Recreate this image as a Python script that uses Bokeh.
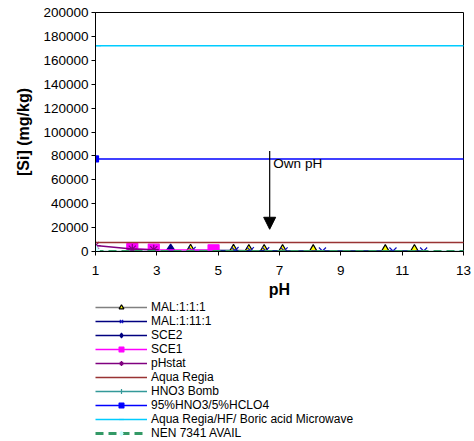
from bokeh.plotting import figure
from bokeh.layouts import column
from bokeh.models import (Legend, LegendItem, Arrow, NormalHead, Label, FixedTicker,
                          SingleIntervalTicker, NumeralTickFormatter, Range1d)
from bokeh.embed import file_html
from bokeh.resources import INLINE

# ---- data ----
mal111_ph = [4.1, 5.5, 6.0, 6.5, 7.1, 8.1, 10.45, 11.4]
mal111_si = [800, 700, 600, 600, 500, 400, 400, 500]
mal1111_ph = [4.15, 5.55, 6.05, 6.55, 7.15, 8.4, 10.7, 11.7]
mal1111_si = [900, 800, 700, 600, 500, 400, 400, 400]
sce2_ph = [3.45]
sce2_si = [700]
sce1_ph = [2.2, 2.9, 4.85]
sce1_si = [2000, 1500, 1000]
phstat_ph = [1.0, 2.2, 2.9]
phstat_si = [5000, 2000, 1500]
flat_ph = [1.0, 14.0]
aqua_regia_si = [7500, 7500]
hno3_bomb_si = [0, 0]
hno3_hclo4_si = [77500, 77500]
aqua_hf_si = [172200, 172200]
nen_si = [0, 0]
x_ticks = [1, 3, 5, 7, 9, 11, 13]
own_ph = 6.68

FONT = "Liberation Sans"

p = figure(width=474, height=300, output_backend="svg", toolbar_location=None,
           x_range=Range1d(1, 13), y_range=Range1d(0, 200000),
           min_border_left=95, min_border_right=11, min_border_top=12, min_border_bottom=48)
p.xgrid.visible = False
p.ygrid.visible = False
p.outline_line_color = "black"
p.outline_line_alpha = 1.0

# legend-only figure below the chart (same data, view range chosen so that
# only the legend is visible)
lg = figure(width=474, height=141, output_backend="svg", toolbar_location=None,
            x_range=Range1d(100, 101), y_range=Range1d(-1e7, -1e7 + 1),
            x_axis_location=None, y_axis_location=None,
            min_border_left=95, min_border_right=11, min_border_top=0, min_border_bottom=0)
lg.xgrid.visible = False
lg.ygrid.visible = False
lg.outline_line_color = None

items = []

def add(label, xs, ys, color, lw=1.5, dash="solid", marker=None, msize=8,
        mfill=None, mline=None):
    p.line(xs, ys, line_color=color, line_width=lw, line_dash=dash)
    rs = [lg.line(xs, ys, line_color=color, line_width=lw, line_dash=dash)]
    if marker is not None:
        kw = dict(marker=marker, size=msize, fill_color=mfill if mfill else color,
                  line_color=mline if mline else color, line_width=1.2)
        p.scatter(xs, ys, **kw)
        rs.append(lg.scatter(xs, ys, **kw))
    items.append(LegendItem(label=label, renderers=rs))

add("MAL:1:1:1", mal111_ph, mal111_si, "#808080", marker="triangle", msize=11,
    mfill="#FFFF00", mline="black")
add("MAL:1:11:1", mal1111_ph, mal1111_si, "#000080", marker="x", msize=10,
    mline="#1010C0")
add("SCE2", sce2_ph, sce2_si, "#000080", marker="diamond", msize=13)
add("SCE1", sce1_ph, sce1_si, "#FF00FF", marker="square", msize=11)
add("pHstat", phstat_ph, phstat_si, "#800080", marker="asterisk", msize=10)
add("Aqua Regia", flat_ph, aqua_regia_si, "#993333", lw=1.6)
add("HNO3 Bomb", flat_ph, hno3_bomb_si, "#339999", marker="cross", msize=10)
add("95%HNO3/5%HCLO4", flat_ph, hno3_hclo4_si, "#0000FF", marker="square", msize=6)
add("Aqua Regia/HF/ Boric acid Microwave", flat_ph, aqua_hf_si, "#00CCFF",
    marker="dash", msize=11)
add("NEN 7341 AVAIL", flat_ph, nen_si, "#339966", lw=3, dash="8 5",
    marker="diamond", msize=13, mfill="#CCFFFF", mline="#CCFFFF")

# annotation arrow
p.add_layout(Arrow(x_start=own_ph, y_start=84000, x_end=own_ph, y_end=18600,
                   line_color="black", line_width=1.2,
                   end=NormalHead(size=12, fill_color="black", line_color="black")))
p.add_layout(Label(x=own_ph + 0.12, y=73600, text="Own pH", text_baseline="middle",
                   text_font=FONT, text_font_size="13.5px", text_color="black"))

# axes
p.xaxis.ticker = FixedTicker(ticks=x_ticks)
p.yaxis.ticker = SingleIntervalTicker(interval=20000)
p.yaxis.formatter = NumeralTickFormatter(format="0")
for ax in (p.xaxis[0], p.yaxis[0]):
    ax.axis_line_color = "black"
    ax.major_tick_line_color = "black"
    ax.minor_tick_line_color = None
    ax.major_tick_in = 0
    ax.major_tick_out = 4
    ax.major_label_text_font = FONT
    ax.major_label_text_font_size = "13.5px"
    ax.major_label_text_color = "black"
    ax.axis_label_text_font = FONT
    ax.axis_label_text_font_size = "16px"
    ax.axis_label_text_font_style = "bold"
    ax.axis_label_text_color = "black"
p.xaxis.axis_label = "pH"
p.yaxis.axis_label = "[Si] (mg/kg)"
p.xaxis.major_label_standoff = 10
p.yaxis.major_label_standoff = 3
p.xaxis.axis_label_standoff = 3
p.yaxis.axis_label_standoff = 8

legend = Legend(items=items, location="top_left", orientation="vertical",
                glyph_width=52, glyph_height=12, label_height=12, spacing=-1,
                padding=5, margin=0, label_standoff=4,
                label_text_font=FONT, label_text_font_size="12px",
                label_text_color="black",
                border_line_color=None, background_fill_alpha=0)
lg.add_layout(legend, "center")

layout = column(p, lg, spacing=0)
open("out.html", "w").write(file_html(layout, INLINE))
